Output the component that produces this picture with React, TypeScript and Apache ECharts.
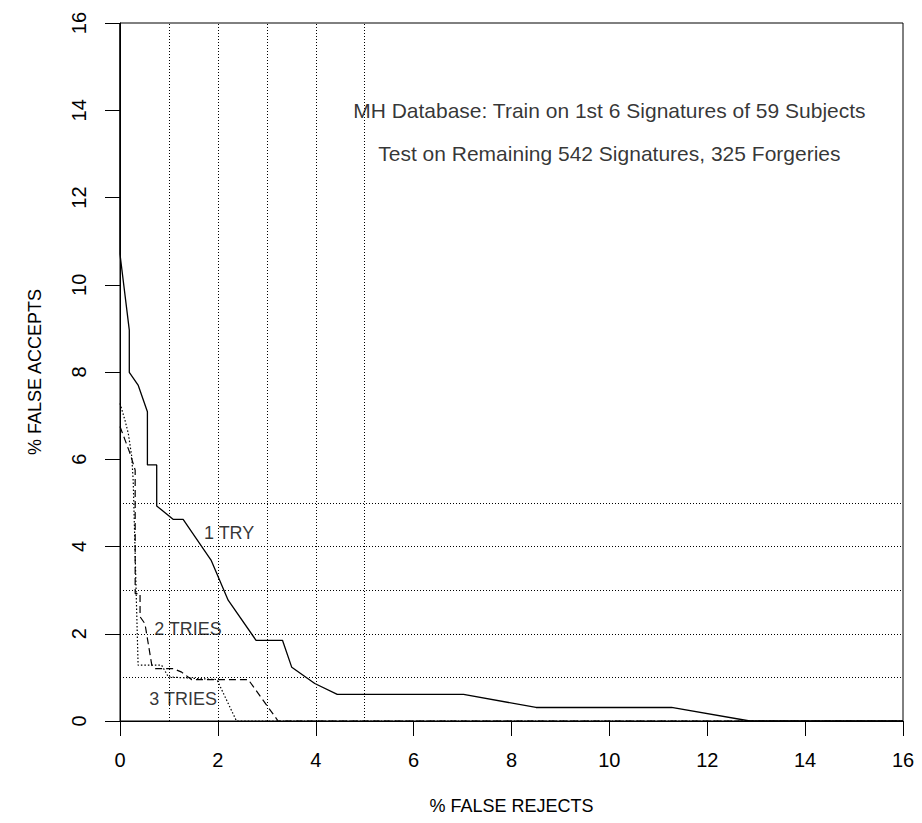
import React, { useEffect, useRef } from "react";
import * as echarts from "echarts";

// % FALSE REJECTS (x) vs % FALSE ACCEPTS (y)
const oneTry: [number, number][] = [
  [0, 16], [0, 10.7], [0.19, 8.96], [0.19, 7.99], [0.37, 7.7], [0.56, 7.09],
  [0.56, 5.87], [0.75, 5.87], [0.75, 4.93], [1.09, 4.62], [1.29, 4.62],
  [1.86, 3.69], [2.21, 2.77], [2.78, 1.85], [3.32, 1.85], [3.51, 1.23],
  [3.98, 0.86], [4.44, 0.61], [7.02, 0.61], [8.5, 0.31], [11.27, 0.31],
  [12.87, 0], [16, 0],
];
const twoTries: [number, number][] = [
  [0, 6.75], [0.1, 6.45], [0.2, 6.15], [0.31, 5.75], [0.31, 2.92], [0.41, 2.92],
  [0.41, 2.39], [0.51, 2.23], [0.65, 1.28], [0.72, 1.2], [1.09, 1.2],
  [1.26, 1.12], [1.46, 0.95], [2.62, 0.95], [3.23, 0], [16, 0],
];
const threeTries: [number, number][] = [
  [0, 7.28], [0.1, 6.9], [0.17, 6.59], [0.24, 6.06], [0.27, 5.5], [0.37, 1.28],
  [0.85, 1.28], [0.99, 1.01], [1.98, 0.95], [2.38, 0], [16, 0],
];
const gridLinesX = [1, 2, 3, 4, 5];
const gridLinesY = [1, 2, 3, 4, 5];
const annotations: { name: string; value: [number, number]; size: number }[] = [
  { name: "MH Database: Train on 1st 6 Signatures of 59 Subjects", value: [10, 14], size: 21 },
  { name: "Test on Remaining 542 Signatures, 325 Forgeries", value: [10, 13], size: 21 },
  { name: "1 TRY", value: [2.23, 4.31], size: 18 },
  { name: "2 TRIES", value: [1.39, 2.1], size: 18 },
  { name: "3 TRIES", value: [1.29, 0.5], size: 18 },
];

const FONT = "'Liberation Sans', Arial, Helvetica, sans-serif";

export default function App() {
  const ref = useRef<HTMLDivElement>(null);
  useEffect(() => {
    if (!ref.current) return;
    const chart = echarts.init(ref.current, undefined, { renderer: "svg" });
    const axisCommon = {
      type: "value" as const,
      min: 0,
      max: 16,
      interval: 2,
      axisLine: { show: true, onZero: false, lineStyle: { color: "#000", width: 1 } },
      axisTick: { show: true, inside: false, length: 15, lineStyle: { color: "#000", width: 1 } },
      splitLine: { show: false },
      nameLocation: "middle" as const,
      nameTextStyle: { fontSize: 18, color: "#000", fontFamily: FONT },
    };
    chart.setOption({
      animation: false,
      backgroundColor: "#fff",
      grid: {
        left: 120,
        top: 23,
        right: 19,
        bottom: 102,
        show: true,
        borderColor: "#000",
        borderWidth: 1,
        backgroundColor: "transparent",
      },
      xAxis: {
        ...axisCommon,
        name: "% FALSE REJECTS",
        nameGap: 76,
        axisLabel: { margin: 29, fontSize: 20, color: "#000", fontFamily: FONT },
      },
      yAxis: {
        ...axisCommon,
        name: "% FALSE ACCEPTS",
        nameGap: 76,
        axisLabel: { margin: 31, rotate: 90, fontSize: 20, color: "#000", fontFamily: FONT },
      },
      series: [
        {
          name: "1 TRY",
          type: "line",
          data: oneTry,
          showSymbol: false,
          symbol: "none",
          lineStyle: { color: "#000", width: 1.3, type: "solid" },
          z: 3,
          markLine: {
            silent: true,
            symbol: ["none", "none"],
            label: { show: false },
            lineStyle: { color: "#000", width: 1, type: [1, 2] },
            data: [
              ...gridLinesX.map((v) => ({ xAxis: v })),
              ...gridLinesY.map((v) => ({ yAxis: v })),
            ],
          },
        },
        {
          name: "2 TRIES",
          type: "line",
          data: twoTries,
          showSymbol: false,
          symbol: "none",
          lineStyle: { color: "#000", width: 1.2, type: [7, 4] },
          z: 3,
        },
        {
          name: "3 TRIES",
          type: "line",
          data: threeTries,
          showSymbol: false,
          symbol: "none",
          lineStyle: { color: "#000", width: 1.2, type: [1.5, 2] },
          z: 3,
        },
        {
          name: "annotations",
          type: "scatter",
          symbolSize: 0,
          z: 4,
          data: annotations.map((a) => ({
            name: a.name,
            value: a.value,
            label: {
              show: true,
              position: "inside",
              formatter: "{b}",
              fontSize: a.size,
              color: "#000",
              fontFamily: FONT,
            },
          })),
        },
      ],
    });
    return () => chart.dispose();
  }, []);
  return (
    <div
      ref={ref}
      style={{ position: "absolute", left: 0, top: 0, width: 922, height: 823, background: "#fff" }}
    />
  );
}
